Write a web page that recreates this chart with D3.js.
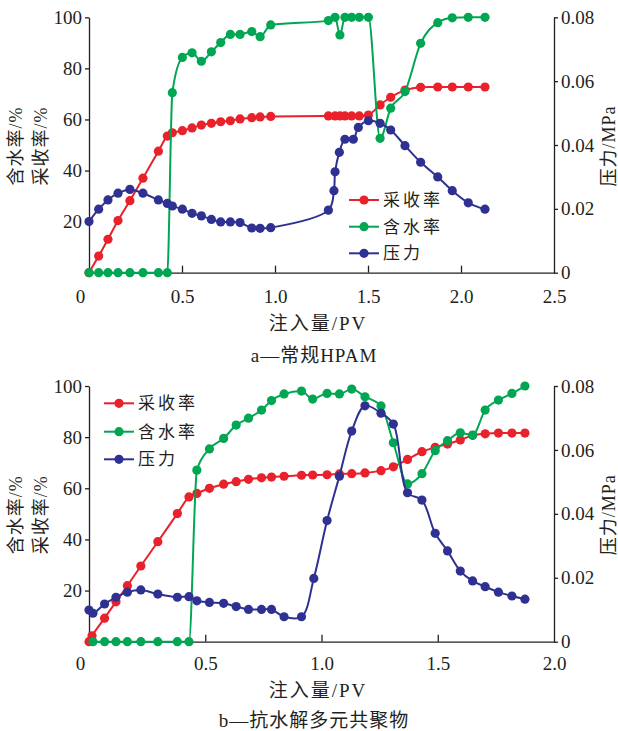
<!DOCTYPE html>
<html>
<head>
<meta charset="utf-8">
<script src="https://cdn.jsdelivr.net/npm/d3@7"></script>
<style>
  body { margin: 0; background: #fff; }
  text { font-family: "Liberation Serif", "Noto Sans CJK SC", serif; fill: #231f20; }
</style>
</head>
<body>
<svg id="chart" width="618" height="731"></svg>
<script>
// ---- a: 常规HPAM ----
const aRecX = [0, 0.052, 0.102, 0.156, 0.22, 0.29, 0.373, 0.421, 0.448, 0.502, 0.554, 0.604, 0.658, 0.708, 0.76, 0.812, 0.875, 0.92, 0.977, 1.287, 1.323, 1.349, 1.376, 1.412, 1.453, 1.502, 1.565, 1.622, 1.699, 1.783, 1.875, 1.953, 2.039, 2.129];
const aRec  = [0, 6.5, 13.1, 20.4, 28.2, 37.0, 47.6, 53.5, 54.8, 55.6, 56.7, 57.8, 58.5, 59.1, 59.5, 60.2, 60.7, 61.0, 61.2, 61.4, 61.4, 61.4, 61.4, 61.4, 61.4, 61.7, 65.7, 68.7, 71.5, 72.6, 72.7, 72.7, 72.7, 72.7];
const aWatX = [0, 0.052, 0.102, 0.156, 0.22, 0.29, 0.373, 0.421, 0.448, 0.502, 0.554, 0.604, 0.658, 0.708, 0.76, 0.812, 0.875, 0.92, 0.977, 1.287, 1.323, 1.349, 1.376, 1.412, 1.453, 1.502, 1.565, 1.622, 1.699, 1.783, 1.875, 1.953, 2.039, 2.129];
const aWat  = [0, 0, 0, 0, 0, 0, 0, 0, 70.5, 84.3, 86.1, 82.8, 86.5, 90.1, 93.3, 93.3, 94.4, 92.4, 97.0, 98.7, 100, 93.1, 100, 100, 100, 100, 52.6, 64.4, 70.9, 89.8, 97.9, 99.8, 100, 100];
const aPreX = [0, 0.052, 0.102, 0.156, 0.22, 0.29, 0.373, 0.421, 0.448, 0.502, 0.554, 0.604, 0.658, 0.708, 0.76, 0.812, 0.875, 0.92, 0.977, 1.287, 1.317, 1.323, 1.346, 1.376, 1.421, 1.448, 1.502, 1.565, 1.622, 1.699, 1.783, 1.875, 1.953, 2.039, 2.129];
const aPre  = [0.0160, 0.0199, 0.0228, 0.0249, 0.0261, 0.0249, 0.0228, 0.0217, 0.0209, 0.0199, 0.0186, 0.0178, 0.0167, 0.0159, 0.0159, 0.0157, 0.0140, 0.0139, 0.0141, 0.0196, 0.0257, 0.0316, 0.0377, 0.0418, 0.0418, 0.0455, 0.0476, 0.0468, 0.0447, 0.0398, 0.0346, 0.0300, 0.0257, 0.0219, 0.0199];

// ---- b: 抗水解多元共聚物 ----
const bRecX = [0, 0.013, 0.067, 0.116, 0.165, 0.223, 0.296, 0.380, 0.43, 0.464, 0.518, 0.579, 0.633, 0.686, 0.742, 0.785, 0.839, 0.914, 0.962, 1.024, 1.077, 1.130, 1.187, 1.256, 1.309, 1.370, 1.432, 1.489, 1.542, 1.597, 1.650, 1.704, 1.761, 1.819, 1.875];
const bRec  = [0, 2.3, 9.2, 15.6, 21.9, 29.6, 39.1, 50.1, 56.6, 58.0, 60.0, 61.6, 62.6, 63.5, 64.1, 64.4, 64.7, 65.1, 65.2, 65.3, 65.6, 65.7, 66.0, 66.9, 68.4, 71.3, 74.3, 76.0, 77.3, 78.9, 80.7, 81.3, 81.6, 81.6, 81.6];
const bWatX = [0.017, 0.067, 0.116, 0.165, 0.223, 0.296, 0.380, 0.43, 0.464, 0.518, 0.579, 0.633, 0.686, 0.742, 0.785, 0.839, 0.914, 0.962, 1.024, 1.077, 1.130, 1.187, 1.256, 1.309, 1.370, 1.432, 1.489, 1.542, 1.597, 1.650, 1.704, 1.761, 1.819, 1.875];
const bWat  = [0, 0, 0, 0, 0, 0, 0, 0, 67.1, 75.4, 79.5, 84.7, 87.4, 90.6, 94.3, 96.9, 98.0, 94.9, 97.1, 96.9, 98.8, 95.8, 92.2, 77.8, 61.7, 65.7, 74.7, 78.6, 81.7, 80.8, 90.6, 94.5, 97.1, 100];
const bPreX = [0, 0.017, 0.067, 0.116, 0.165, 0.223, 0.296, 0.380, 0.43, 0.464, 0.518, 0.579, 0.633, 0.686, 0.742, 0.785, 0.839, 0.914, 0.967, 1.024, 1.077, 1.130, 1.187, 1.256, 1.309, 1.370, 1.432, 1.489, 1.542, 1.597, 1.650, 1.704, 1.761, 1.819, 1.875];
const bPre  = [0.0099, 0.0089, 0.0118, 0.0139, 0.0155, 0.0162, 0.0149, 0.0139, 0.0141, 0.0128, 0.0123, 0.0120, 0.0110, 0.0101, 0.0101, 0.0101, 0.0078, 0.0078, 0.0198, 0.0379, 0.0518, 0.0659, 0.0738, 0.0715, 0.0681, 0.0466, 0.0443, 0.0339, 0.0284, 0.0221, 0.0190, 0.0172, 0.0155, 0.0143, 0.0133];

// ---- shared labels ----
const seriesNames = ["采收率", "含水率", "压力"];
const seriesColors = ["#e8212b", "#00a651", "#2e3192"];
const leftTicks = [20, 40, 60, 80, 100];
const rightTicks = [0, 0.02, 0.04, 0.06, 0.08];
const xTitle = "注入量/PV";
const leftTitles = ["含水率/%", "采收率/%"];
const rightTitle = "压力/MPa";

const svg = d3.select("#chart");
const AX = "#231f20";

function drawPanel(cfg) {
  const g = svg.append("g");
  const x = d3.scaleLinear().domain([0, cfg.xMax]).range([89, 554]);
  const yL = d3.scaleLinear().domain([0, 100]).range([cfg.bottom, cfg.top]);
  const yR = d3.scaleLinear().domain([0, 0.08]).range([cfg.bottom, cfg.top]);

  // left axis
  const la = g.append("g").attr("transform", "translate(89,0)")
    .call(d3.axisLeft(yL).tickValues(leftTicks).tickSize(4).tickSizeOuter(0).tickPadding(3));
  // right axis
  const ra = g.append("g").attr("transform", "translate(554,0)")
    .call(d3.axisRight(yR).tickValues(rightTicks).tickSize(4).tickSizeOuter(0).tickPadding(3)
      .tickFormat(d => d === 0 ? "0" : d3.format(".2f")(d)));
  // bottom axis: inward ticks
  const ba = g.append("g").attr("transform", `translate(0,${cfg.bottom})`)
    .call(d3.axisBottom(x).tickValues(cfg.xTicks).tickSize(-7).tickSizeOuter(0).tickFormat(""));
  // bottom labels
  const bl = g.append("g").attr("transform", `translate(0,${cfg.bottom})`)
    .call(d3.axisBottom(x).tickValues(cfg.xLabels).tickSize(0).tickPadding(cfg.xPad)
      .tickFormat(d => d === 0 ? "0" : d3.format(".1f")(d)));
  bl.select(".domain").remove();
  bl.selectAll(".tick").filter(d => d === 0).select("text").attr("dx", -9);

  [la, ra, ba, bl].forEach(a => a.attr("font-family", null));
  [la, ra, ba].forEach(a => {
    a.select(".domain").attr("stroke", AX).attr("stroke-width", 1.3);
    a.selectAll(".tick line").attr("stroke", AX).attr("stroke-width", 1.3);
  });
  [la, ra, bl].forEach(a => a.selectAll(".tick text")
    .attr("font-size", 19).attr("fill", AX)
    .style("font-family", '"Liberation Serif", serif'));

  // series: water cut uses a monotone curve so the sharp breakthrough does not overshoot
  const smooth = d3.line().curve(d3.curveCatmullRom.alpha(0.5));
  const mono = d3.line().curve(d3.curveMonotoneX);
  const sets = [
    { xs: cfg.recX, ys: cfg.rec, y: yL, c: seriesColors[0], gen: smooth },
    { xs: cfg.watX, ys: cfg.wat, y: yL, c: seriesColors[1], gen: mono },
    { xs: cfg.preX, ys: cfg.pre, y: yR, c: seriesColors[2], gen: smooth }
  ];
  sets.forEach(s => {
    const pts = s.xs.map((v, i) => [x(v), s.y(s.ys[i])]);
    g.append("path").attr("d", s.gen(pts)).attr("fill", "none")
      .attr("stroke", s.c).attr("stroke-width", 2);
    g.selectAll(null).data(pts).enter().append("circle")
      .attr("cx", d => d[0]).attr("cy", d => d[1]).attr("r", 4.6).attr("fill", s.c);
  });

  // legend
  seriesNames.forEach((n, i) => {
    const ly = cfg.legY[i];
    g.append("line").attr("x1", cfg.legX).attr("x2", cfg.legX + 30)
      .attr("y1", ly).attr("y2", ly).attr("stroke", seriesColors[i]).attr("stroke-width", 2);
    g.append("circle").attr("cx", cfg.legX + 15).attr("cy", ly).attr("r", 4.6).attr("fill", seriesColors[i]);
    g.append("text").attr("x", cfg.legX + 34).attr("y", ly).attr("dy", "0.36em")
      .attr("font-size", 17).attr("letter-spacing", 3).text(n);
  });

  // axis titles
  const midY = (cfg.top + cfg.bottom) / 2 + 1;
  [16, 41].forEach((cx, i) => {
    g.append("text").attr("transform", `translate(${cx},${midY}) rotate(-90)`)
      .attr("text-anchor", "middle").attr("dy", "0.36em")
      .attr("font-size", 18).attr("letter-spacing", 1).text(leftTitles[i]);
  });
  g.append("text").attr("transform", `translate(609,${midY}) rotate(-90)`)
    .attr("text-anchor", "middle").attr("dy", "0.36em")
    .attr("font-size", 18).attr("letter-spacing", 1).text(rightTitle);

  g.append("text").attr("x", 318).attr("y", cfg.xTitleY).attr("dy", "0.36em")
    .attr("text-anchor", "middle").attr("font-size", 19).attr("letter-spacing", 2).text(xTitle);
  g.append("text").attr("x", 314).attr("y", cfg.capY).attr("dy", "0.36em")
    .attr("text-anchor", "middle").attr("font-size", 19).attr("letter-spacing", 1).text(cfg.caption);
}

drawPanel({
  top: 17.3, bottom: 272.7, xMax: 2.5,
  xTicks: [0.5, 1, 1.5, 2], xLabels: [0, 0.5, 1, 1.5, 2, 2.5], xPad: 17,
  recX: aRecX, rec: aRec, watX: aWatX, wat: aWat, preX: aPreX, pre: aPre,
  legX: 349, legY: [200, 226.7, 253.3],
  xTitleY: 323, capY: 355, caption: "a—常规HPAM"
});
drawPanel({
  top: 386, bottom: 641.7, xMax: 2.0,
  xTicks: [0.5, 1, 1.5], xLabels: [0, 0.5, 1, 1.5, 2], xPad: 15,
  recX: bRecX, rec: bRec, watX: bWatX, wat: bWat, preX: bPreX, pre: bPre,
  legX: 104, legY: [403.3, 431.7, 459.3],
  xTitleY: 690, capY: 720, caption: "b—抗水解多元共聚物"
});
</script>
</body>
</html>
